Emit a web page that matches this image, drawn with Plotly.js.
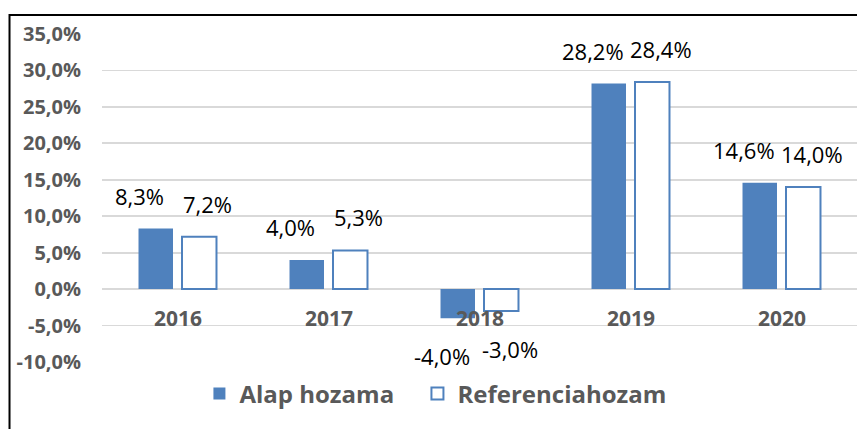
<!DOCTYPE html>
<html>
<head>
<meta charset="utf-8">
<script src="https://cdn.plot.ly/plotly-3.0.1.min.js"></script>
<style>html,body{margin:0;padding:0;background:#fff;}#chart{width:857px;height:429px;}</style>
</head>
<body>
<div id="chart"></div>
<script>
const categories = ['2016', '2017', '2018', '2019', '2020'];
const seriesNames = ['Alap hozama', 'Referenciahozam'];
const alapHozama = [8.3, 4.0, -4.0, 28.2, 14.6];
const referenciahozam = [7.2, 5.3, -3.0, 28.4, 14.0];
const yTickValues = [-10, -5, 0, 5, 10, 15, 20, 25, 30, 35];

const blue = '#4F81BD';
const grey = '#595959';
const fam = '"Open Sans", "Noto Sans", sans-serif';

function fmt(v) { return v.toFixed(1).replace('.', ',') + '%'; }

const traces = [
  {
    type: 'bar', name: seriesNames[0], x: categories, y: alapHozama,
    marker: {color: blue, line: {width: 0}},
    legend: 'legend', hoverinfo: 'skip'
  },
  {
    type: 'bar', name: seriesNames[1], x: categories, y: referenciahozam,
    marker: {color: '#FFFFFF', line: {color: blue, width: 2}},
    legend: 'legend2', hoverinfo: 'skip'
  }
];

const annotations = [];
[alapHozama, referenciahozam].forEach(function (vals, si) {
  vals.forEach(function (v, i) {
    const pos = v >= 0;
    annotations.push({
      xref: 'x', yref: 'y', x: i, y: v,
      text: fmt(v), showarrow: false,
      xanchor: 'center', yanchor: pos ? 'bottom' : 'top',
      xshift: si === 0 ? -38 : 30,
      yshift: pos ? 16 : -21,
      font: {family: fam, size: 22, color: '#000000'}
    });
  });
});
categories.forEach(function (c, i) {
  annotations.push({
    xref: 'x', yref: 'y', x: i, y: 0,
    text: c, showarrow: false,
    xanchor: 'center', yanchor: 'middle', yshift: -29,
    font: {family: fam, size: 21, color: grey, weight: 'bold'}
  });
});

const legendFont = {family: fam, size: 24, color: grey, weight: 'bold'};

const layout = {
  width: 857, height: 429,
  margin: {l: 102, r: 0, t: 34, b: 67},
  paper_bgcolor: '#FFFFFF', plot_bgcolor: '#FFFFFF',
  barmode: 'group', bargap: 0.424, bargroupgap: 0.207,
  showlegend: true,
  legend: {
    orientation: 'h', xref: 'container', yref: 'container',
    x: 0.2327, y: 0.082, xanchor: 'left', yanchor: 'middle',
    font: legendFont
  },
  legend2: {
    orientation: 'h', xref: 'container', yref: 'container',
    x: 0.4871, y: 0.082, xanchor: 'left', yanchor: 'middle',
    font: legendFont
  },
  xaxis: {
    type: 'category', range: [-0.5, 4.5],
    showline: false, showgrid: false, zeroline: false, ticks: '',
    showticklabels: false, fixedrange: true
  },
  yaxis: {
    range: [-10, 35], tickmode: 'array', tickvals: yTickValues,
    ticktext: yTickValues.map(fmt),
    showline: false, ticks: 'outside', ticklen: 16, tickcolor: 'rgba(0,0,0,0)',
    gridcolor: '#D9D9D9', gridwidth: 1.8,
    zeroline: true, zerolinecolor: '#D9D9D9', zerolinewidth: 1.8,
    tickfont: {family: fam, size: 20, color: grey, weight: 'bold'},
    fixedrange: true
  },
  annotations: annotations,
  shapes: [{
    type: 'path', xref: 'paper', yref: 'paper', layer: 'above',
    path: 'M -0.1225,-0.3 L -0.1225,1.058 L 1.2,1.058',
    line: {color: '#000000', width: 2}
  }]
};

Plotly.newPlot('chart', traces, layout, {displayModeBar: false, staticPlot: true});
</script>
</body>
</html>
